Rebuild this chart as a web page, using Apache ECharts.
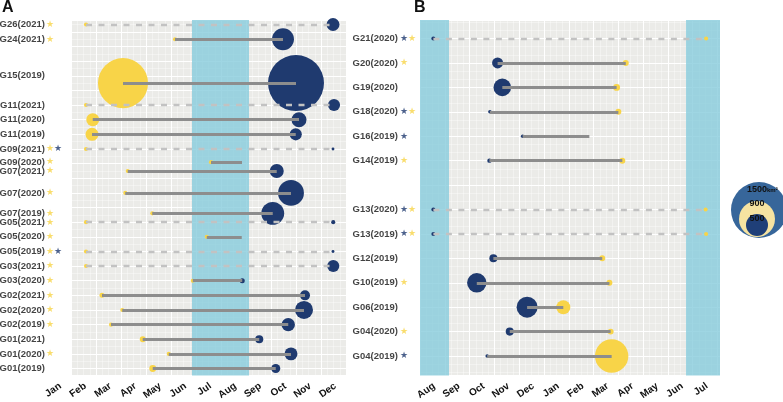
<!DOCTYPE html>
<html>
<head>
<meta charset="utf-8">
<script src="https://cdn.jsdelivr.net/npm/echarts@6.0.0/dist/echarts.min.js"></script>
<style>
  html, body { margin: 0; padding: 0; background: #fff; }
  #chart { width: 783px; height: 402px; }
</style>
</head>
<body>
<div id="chart"></div>
<script>
// ---------- panel A (Jan..Dec, month index 0..11) ----------
const monthsA = ['Jan', 'Feb', 'Mar', 'Apr', 'May', 'Jun', 'Jul', 'Aug', 'Sep', 'Oct', 'Nov', 'Dec'];
const rowsA = ['G26(2021)', 'G24(2021)', 'G15(2019)', 'G11(2021)', 'G11(2020)', 'G11(2019)', 'G09(2021)',
  'G09(2020)', 'G07(2021)', 'G07(2020)', 'G07(2019)', 'G05(2021)', 'G05(2020)', 'G05(2019)', 'G03(2021)',
  'G03(2020)', 'G02(2021)', 'G02(2020)', 'G02(2019)', 'G01(2021)', 'G01(2020)', 'G01(2019)'];
const rowPosA = [23.5, 22.5, 19.5, 18, 17, 16, 15, 14.1, 13.5, 12, 10.6, 10, 9, 8, 7, 6, 5, 4, 3, 2, 1, 0];
const labelPosA = [23.5, 22.5, 20, 18, 17, 16, 15, 14.1, 13.5, 12, 10.6, 10, 9, 8, 7, 6, 5, 4, 3, 2, 1, 0];
const startA = [0.60, 4.16, 2.08, 0.60, 0.87, 0.84, 0.60, 5.60, 2.27, 2.17, 3.25, 0.60, 5.43, 0.60, 0.60, 4.87, 1.24, 2.05, 1.60, 2.87, 3.91, 3.27];
const endA = [10.48, 8.48, 9.00, 10.52, 9.12, 8.99, 10.48, 6.84, 8.23, 8.80, 8.07, 10.49, 6.83, 10.48, 10.49, 6.85, 9.36, 9.32, 8.69, 7.53, 8.80, 8.19];
const startSizeA = [8, 8, 1200, 8, 80, 80, 8, 8, 8, 8, 8, 8, 8, 8, 8, 8, 12, 8, 8, 17, 8, 23];
const endSizeA = [80, 230, 1500, 70, 108, 70, 4, 0, 94, 320, 250, 8, 0, 4, 70, 12, 48, 155, 86, 31, 80, 39];
const dashedA = [1, 0, 0, 1, 0, 0, 1, 0, 0, 0, 0, 1, 0, 1, 1, 0, 0, 0, 0, 0, 0, 0];
const starsA = ['y', 'y', '', '', '', '', 'yn', 'y', 'y', 'y', 'y', 'y', 'y', 'yn', 'y', 'y', 'y', 'y', 'y', '', 'y', ''];
const bandA = [4.84, 7.12];

// ---------- panel B (Aug..Jul, month index 0..11) ----------
const monthsB = ['Aug', 'Sep', 'Oct', 'Nov', 'Dec', 'Jan', 'Feb', 'Mar', 'Apr', 'May', 'Jun', 'Jul'];
const rowsB = ['G21(2020)', 'G20(2020)', 'G19(2020)', 'G18(2020)', 'G16(2019)', 'G14(2019)', 'G13(2020)',
  'G13(2019)', 'G12(2019)', 'G10(2019)', 'G06(2019)', 'G04(2020)', 'G04(2019)'];
const rowPosB = [13, 12, 11, 10, 9, 8, 6, 5, 4, 3, 2, 1, 0];
const startB = [-0.46, 2.13, 2.32, 1.82, 3.14, 1.80, -0.46, -0.46, 1.96, 1.29, 3.32, 2.62, 1.71];
const endB = [10.54, 7.30, 6.93, 7.00, 5.83, 7.16, 10.52, 10.54, 6.35, 6.64, 4.78, 6.69, 6.73];
const startSizeB = [8, 58, 148, 6, 6, 9, 8, 8, 31, 180, 211, 31, 6];
const endSizeB = [8, 17, 23, 17, 0, 17, 8, 8, 17, 17, 94, 17, 534];
const dashedB = [1, 0, 0, 0, 0, 0, 1, 1, 0, 0, 0, 0, 0];
const starsB = ['ny', 'y', '', 'ny', 'n', 'y', 'ny', 'ny', '', 'y', '', 'y', 'n'];
const bandsB = [[-1, 0.17], [9.73, 11.1]];

// axis extents
const xRangeA = [0, 11], yRangeA = [-0.48, 23.81];
const xRangeB = [-1, 11.1], yRangeB = [-0.8, 13.76];

const NAVY = '#1f3a6f', YELLOW = '#f8d448';
const FONT = 'Liberation Sans, Arial, Helvetica, sans-serif';

// bubble diameter from area (km2)
function bubble(v) { return v > 0 ? 2 * 28 * Math.sqrt(v / 1500) : 0; }

function xAxisFor(idx, range, names) {
  return {
    type: 'value', gridIndex: idx, min: range[0], max: range[1], splitNumber: 12,
    axisLine: { show: false }, axisTick: { show: false },
    axisLabel: {
      rotate: 35, margin: 2, padding: [0, 13, 0, 0],
      fontSize: 10, fontWeight: 'bold', color: '#111', fontFamily: FONT,
      formatter: v => (Number.isInteger(v) && names[v]) ? names[v] : ''
    },
    splitLine: { show: true, lineStyle: { color: '#ffffff', width: 1 } },
    minorTick: { show: false, splitNumber: 4 },
    minorSplitLine: { show: true, lineStyle: { color: 'rgba(255,255,255,0.75)', width: 0.5 } }
  };
}

function yAxisFor(idx, range, split, minor) {
  return {
    type: 'value', gridIndex: idx, min: range[0], max: range[1], splitNumber: split,
    axisLine: { show: false }, axisTick: { show: false }, axisLabel: { show: false },
    splitLine: { show: true, lineStyle: { color: '#ffffff', width: 1 } },
    minorTick: { show: false, splitNumber: minor },
    minorSplitLine: { show: true, lineStyle: { color: 'rgba(255,255,255,0.75)', width: 0.5 } }
  };
}

function panelSeries(idx, p) {
  const ax = { xAxisIndex: idx, yAxisIndex: idx };
  const solid = [], dashed = [];
  p.rows.forEach((n, i) => {
    const seg = { coords: [[p.start[i], p.pos[i]], [p.end[i], p.pos[i]]] };
    (p.dashed[i] ? dashed : solid).push(seg);
  });
  const starRich = {
    y: { color: YELLOW, fontSize: 9, fontFamily: 'DejaVu Sans' },
    n: { color: NAVY, fontSize: 9, fontFamily: 'DejaVu Sans' }
  };
  return [
    {
      type: 'scatter', ...ax, data: [], silent: true, z: 1,
      markArea: {
        silent: true,
        itemStyle: { color: 'rgba(135,204,220,0.8)' },
        data: p.bands.map(b => [{ xAxis: b[0] }, { xAxis: b[1] }])
      }
    },
    {
      type: 'scatter', ...ax, z: 2, silent: true, clip: false,
      data: p.rows.map((n, i) => [p.end[i], p.pos[i], p.endSize[i]]),
      symbolSize: v => bubble(v[2]),
      itemStyle: { color: p.endColor, opacity: 1 }
    },
    {
      type: 'scatter', ...ax, z: 2, silent: true, clip: false,
      data: p.rows.map((n, i) => [p.start[i], p.pos[i], p.startSize[i]]),
      symbolSize: v => bubble(v[2]),
      itemStyle: { color: p.startColor, opacity: 1 }
    },
    {
      type: 'lines', coordinateSystem: 'cartesian2d', ...ax, z: 3, silent: true,
      data: dashed,
      lineStyle: { color: '#c2c2c2', width: 2.4, type: [6, 6.5], opacity: 1, curveness: 0 }
    },
    {
      type: 'lines', coordinateSystem: 'cartesian2d', ...ax, z: 3, silent: true,
      data: solid,
      lineStyle: { color: '#8d8d8d', width: 2.8, opacity: 1, curveness: 0, cap: 'butt' }
    },
    {
      type: 'scatter', ...ax, z: 4, silent: true, clip: false, symbolSize: 0,
      data: p.rows.map((n, i) => ({ name: n, value: [p.xMin, p.labelPos[i]] })),
      label: {
        show: true, position: 'left', distance: p.labelGap, formatter: '{b}',
        color: '#111', fontWeight: 'bold', fontSize: 9.5, fontFamily: FONT
      }
    },
    {
      type: 'scatter', ...ax, z: 4, silent: true, clip: false, symbolSize: 0,
      data: p.rows.map((n, i) => ({ name: p.stars[i], value: [p.xMin, p.labelPos[i]] })),
      label: {
        show: true, position: [p.starOffset, 0], align: 'left', verticalAlign: 'middle',
        formatter: d => d.name.split('').map(c => '{' + c + '|\u2605}').join(''),
        rich: starRich
      }
    }
  ];
}

const chart = echarts.init(document.getElementById('chart'), null, { renderer: 'canvas' });

chart.setOption({
  animation: false,
  backgroundColor: '#ffffff',
  title: [
    { text: 'A', left: 2, top: 0, padding: 0, textStyle: { fontSize: 16, fontWeight: 'bold', color: '#111', fontFamily: FONT } },
    { text: 'B', left: 414, top: 0, padding: 0, textStyle: { fontSize: 16, fontWeight: 'bold', color: '#111', fontFamily: FONT } }
  ],
  grid: [
    { left: 71, top: 20, width: 275, height: 357, show: true, backgroundColor: '#ebebe8', borderWidth: 0 },
    { left: 420, top: 20, width: 300, height: 362, show: true, backgroundColor: '#ebebe8', borderWidth: 0 }
  ],
  xAxis: [xAxisFor(0, xRangeA, monthsA), xAxisFor(1, xRangeB, monthsB)],
  yAxis: [yAxisFor(0, yRangeA, 24, 2), yAxisFor(1, yRangeB, 14, 3)],
  series: [
    ...panelSeries(0, {
      rows: rowsA, pos: rowPosA, labelPos: labelPosA, start: startA, end: endA,
      startSize: startSizeA, endSize: endSizeA, dashed: dashedA, stars: starsA,
      bands: [bandA], startColor: YELLOW, endColor: NAVY,
      xMin: xRangeA[0], labelGap: 26, starOffset: -25
    }),
    ...panelSeries(1, {
      rows: rowsB, pos: rowPosB, labelPos: rowPosB, start: startB, end: endB,
      startSize: startSizeB, endSize: endSizeB, dashed: dashedB, stars: starsB,
      bands: bandsB, startColor: NAVY, endColor: YELLOW,
      xMin: xRangeB[0], labelGap: 22, starOffset: -20
    })
  ],
  graphic: [
    { type: 'circle', shape: { cx: 759, cy: 210, r: 28 }, style: { fill: '#37669a' }, silent: true },
    { type: 'circle', shape: { cx: 757, cy: 219, r: 18 }, style: { fill: '#f6e3a1' }, silent: true },
    { type: 'circle', shape: { cx: 757, cy: 225, r: 11 }, style: { fill: '#1f3f78' }, silent: true },
    {
      type: 'text', silent: true,
      style: {
        x: 747, y: 190, text: '{a|1500}{b|km²}', verticalAlign: 'middle',
        rich: {
          a: { font: 'bold 9px ' + FONT, fill: '#111' },
          b: { font: 'bold 6px ' + FONT, fill: '#111' }
        }
      }
    },
    { type: 'text', silent: true, style: { x: 757, y: 204, text: '900', align: 'center', verticalAlign: 'middle', font: 'bold 9px ' + FONT, fill: '#111' } },
    { type: 'text', silent: true, style: { x: 757, y: 219, text: '500', align: 'center', verticalAlign: 'middle', font: 'bold 9px ' + FONT, fill: '#111' } }
  ]
});
</script>
</body>
</html>
